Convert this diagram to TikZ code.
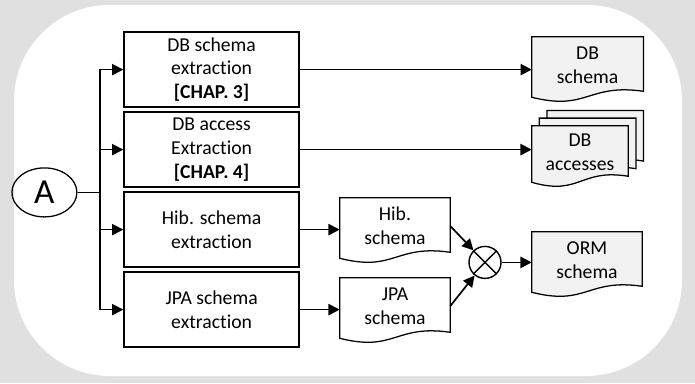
\documentclass[tikz,border=0pt]{standalone}
\usepackage{fontspec}
\setmainfont{Carlito}[Ligatures={NoCommon}]
\usetikzlibrary{shapes.geometric,arrows.meta}
\pgfdeclarelayer{panel}
\pgfdeclarelayer{docs}
\pgfsetlayers{panel,docs,main}
\definecolor{docgray}{RGB}{242,242,242}
\definecolor{framegray}{RGB}{224,224,224}
\tikzset{
  procbox/.style={draw, rectangle, line width=1.2pt, minimum width=4.375cm, minimum height=1.875cm, align=center},
  docnode/.style={rectangle, align=center, inner sep=0pt, minimum height=1.4cm},
  docline/.style={draw, line width=0.9pt},
  link/.style={line width=1.2pt},
}
% document outline: [offset]{node}{fill}
\newcommand{\docshape}[3][0cm]{%
  \draw[docline, fill=#3] ([shift={(#1,#1)}]#2.north west) -- ([shift={(#1,#1)}]#2.north east)
    -- ([shift={(#1,#1+0.05cm)}]#2.south east)
    .. controls ([shift={(#1,#1+0.25cm)}]#2.south) and ([shift={(#1,#1-0.45cm)}]#2.south)
    .. ([shift={(#1,#1-0.1cm)}]#2.south west) -- cycle;}

\begin{document}
\begin{tikzpicture}[node distance=2cm, >={Triangle[length=8pt,width=8pt]}, font={\fontsize{14}{17}\selectfont}]
    % Frame
    \useasboundingbox (0,0) rectangle (17.375,-9.575);
    \begin{pgfonlayer}{panel}
        \fill[framegray] (0,0) rectangle (17.375,-9.575);
        \fill[white, rounded corners=2.4cm] (0.35,-0.12) rectangle (17.05,-9.4);
    \end{pgfonlayer}

    % Nodes
    \node[draw, ellipse, line width=0.9pt, minimum width=1.625cm, minimum height=1.225cm, inner sep=0pt] (start) at (1.11,-4.81) {\fontsize{25}{30}\selectfont A};
    \coordinate (split) at (2.5,-4.81);
    \node[procbox] (schemaext) at (5.29,-1.74) {DB schema\\extraction\\\textbf{[CHAP. 3]}};
    \node[procbox, below of=schemaext] (accessext) {DB access\\Extraction\\\textbf{[CHAP. 4]}};
    \node[procbox, below of=accessext] (hibext) {Hib. schema\\extraction};
    \node[procbox, below of=hibext] (jpaext) {JPA schema\\extraction};

    \node[docnode, minimum width=2.775cm] (dbschema) at (14.69,-1.625) {DB\\schema};
    \node[docnode, minimum width=2.4cm, minimum height=1.3cm] (dbaccess) at (14.5,-3.8) {DB\\accesses};
    \node[docnode, minimum width=2.75cm] (hibschema) at (9.875,-5.65) {Hib.\\schema};
    \node[docnode, minimum width=2.75cm] (jpaschema) at (9.875,-7.65) {JPA\\schema};
    \node[draw, circle, line width=1pt, minimum size=0.8cm, inner sep=0pt] (merge) at (12.125,-6.56) {};
    \node[docnode, minimum width=2.75cm] (ormschema) at (14.675,-6.5) {ORM\\schema};

    % Document outlines
    \begin{pgfonlayer}{docs}
        \docshape{dbschema}{docgray}
        \docshape[0.38cm]{dbaccess}{docgray}
        \docshape[0.19cm]{dbaccess}{docgray}
        \docshape{dbaccess}{docgray}
        \docshape{hibschema}{white}
        \docshape{jpaschema}{white}
        \docshape{ormschema}{docgray}
    \end{pgfonlayer}
    \draw[line width=1pt] (merge.north west) -- (merge.south east) (merge.north east) -- (merge.south west);

    % Arrows
    \draw[link] (start) -- (split);
    \draw[link, ->] (split) |- (schemaext);
    \draw[link, ->] (split) |- (accessext);
    \draw[link, ->] (split) |- (hibext);
    \draw[link, ->] (split) |- (jpaext);
    \draw[link, ->] (schemaext) -- (schemaext -| dbschema.west);
    \draw[link, ->] (accessext) -- (accessext -| dbaccess.west);
    \draw[link, ->] (hibext) -- (hibext -| hibschema.west);
    \draw[link, ->] (jpaext) -- (jpaext -| jpaschema.west);
    \draw[link, ->] (hibschema.east) -- (merge);
    \draw[link, ->] (jpaschema.east) -- (merge);
    \draw[link, ->] (merge) -- (merge -| ormschema.west);
\end{tikzpicture}
\end{document}
